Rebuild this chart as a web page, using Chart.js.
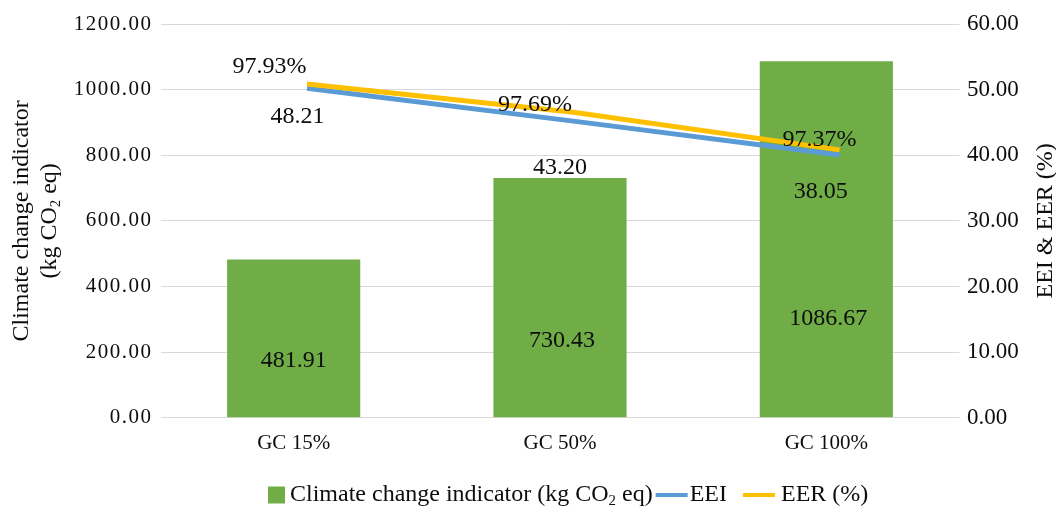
<!DOCTYPE html>
<html>
<head>
<meta charset="utf-8">
<script src="https://cdn.jsdelivr.net/npm/chart.js@4/dist/chart.umd.min.js"></script>
<style>
  html, body { margin: 0; padding: 0; background: #fff; }
  #wrap { width: 1056px; height: 513px; }
</style>
</head>
<body>
<div id="wrap"><canvas id="c" width="1056" height="513"></canvas></div>
<script>
// ---- data ----
const categories = ['GC 15%', 'GC 50%', 'GC 100%'];
const climateChange = [481.91, 730.43, 1086.67];   // kg CO2 eq
const eei = [48.21, 43.20, 38.05];
const eer = [97.93, 97.69, 97.37];                  // %
const leftTickValues = [0, 200, 400, 600, 800, 1000, 1200];
const rightTickValues = [0, 10, 20, 30, 40, 50, 60];

const FONT = '"Liberation Serif", "Times New Roman", Times, serif';
const INK = '#0d0d0d';
const GREEN = '#70AD47';
const BLUE = '#5B9BD5';
const GOLD = '#FFC000';

// text with an optional subscript run, e.g. CO₂
function drawRich(ctx, parts, x, y, size, align) {
  const widths = parts.map(p => {
    ctx.font = `${p.sub ? size * 0.62 : size}px ${FONT}`;
    return ctx.measureText(p.t).width;
  });
  const total = widths.reduce((a, b) => a + b, 0);
  let cx = align === 'center' ? x - total / 2 : x;
  ctx.textAlign = 'left';
  ctx.textBaseline = 'middle';
  parts.forEach((p, i) => {
    ctx.font = `${p.sub ? size * 0.62 : size}px ${FONT}`;
    ctx.fillText(p.t, cx, y + (p.sub ? size * 0.25 : 0));
    cx += widths[i];
  });
  return total;
}

// value labels next to bars and line points
const valueLabels = {
  id: 'valueLabels',
  afterDatasetsDraw(chart, args, opts) {
    const ctx = chart.ctx;
    const texts = [
      climateChange.map(v => v.toFixed(2)),
      eei.map(v => v.toFixed(2)),
      eer.map(v => v.toFixed(2) + '%')
    ];
    ctx.save();
    ctx.fillStyle = INK;
    ctx.font = `${opts.size}px ${FONT}`;
    ctx.textAlign = 'center';
    ctx.textBaseline = 'middle';
    chart.data.datasets.forEach((ds, di) => {
      const meta = chart.getDatasetMeta(di);
      meta.data.forEach((el, i) => {
        const off = opts.offsets[di][i];
        const ay = ds.type === 'line' ? el.y : el.base;
        ctx.fillText(texts[di][i], el.x + off[0], ay + off[1]);
      });
    });
    ctx.restore();
  }
};

// axis titles and legend
const frame = {
  id: 'frame',
  afterDraw(chart) {
    const ctx = chart.ctx;
    const a = chart.chartArea;
    const midY = (a.top + a.bottom) / 2;
    ctx.save();
    ctx.fillStyle = INK;

    // left title, two lines
    ctx.save();
    ctx.translate(21.5, midY);
    ctx.rotate(-Math.PI / 2);
    drawRich(ctx, [{ t: 'Climate change indicator' }], 0, 0, 24, 'center');
    ctx.restore();
    ctx.save();
    ctx.translate(50, midY);
    ctx.rotate(-Math.PI / 2);
    drawRich(ctx, [{ t: '(kg CO' }, { t: '2', sub: true }, { t: ' eq)' }], 0, 0, 24, 'center');
    ctx.restore();

    // right title
    ctx.save();
    ctx.translate(1046, midY);
    ctx.rotate(-Math.PI / 2);
    drawRich(ctx, [{ t: 'EEI & EER (%)' }], 0, 0, 24, 'center');
    ctx.restore();

    // legend
    const ly = 495;
    let x = 268;
    ctx.fillStyle = GREEN;
    ctx.fillRect(x, ly - 8.5, 17, 17);
    x += 22;
    ctx.fillStyle = INK;
    x += drawRich(ctx, [{ t: 'Climate change indicator (kg CO' }, { t: '2', sub: true }, { t: ' eq)' }], x, ly, 24, 'left');
    x += 3;
    ctx.strokeStyle = BLUE; ctx.lineWidth = 4;
    ctx.beginPath(); ctx.moveTo(x, ly); ctx.lineTo(x + 32, ly); ctx.stroke();
    x += 34;
    x += drawRich(ctx, [{ t: 'EEI' }], x, ly, 24, 'left');
    x += 16;
    ctx.strokeStyle = GOLD;
    ctx.beginPath(); ctx.moveTo(x, ly); ctx.lineTo(x + 32, ly); ctx.stroke();
    x += 38;
    drawRich(ctx, [{ t: 'EER (%)' }], x, ly, 24, 'left');
    ctx.restore();
  }
};

// slightly tracked tick labels on the left axis
const trackedTicks = {
  id: 'trackedTicks',
  beforeDraw(chart) {
    const s = chart.scales.y;
    if (s && !s._tracked) {
      const orig = s.drawLabels;
      s.drawLabels = function (area) {
        const ctx = this.ctx;
        ctx.save();
        ctx.letterSpacing = '1.5px';
        orig.call(this, area);
        ctx.restore();
      };
      s._tracked = true;
    }
  }
};

new Chart(document.getElementById('c'), {
  type: 'bar',
  data: {
    labels: categories,
    datasets: [
      {
        type: 'bar',
        label: 'Climate change indicator (kg CO2 eq)',
        data: climateChange,
        backgroundColor: GREEN,
        borderWidth: 0,
        grouped: false,
        barPercentage: 1,
        categoryPercentage: 0.5,
        xAxisID: 'x',
        yAxisID: 'y',
        order: 3
      },
      {
        type: 'line',
        label: 'EEI',
        data: eei.map((v, i) => ({ x: i, y: v })),
        borderColor: BLUE,
        borderWidth: 5,
        pointRadius: 0,
        tension: 0,
        fill: false,
        xAxisID: 'xLine',
        yAxisID: 'yEEI',
        order: 2
      },
      {
        type: 'line',
        label: 'EER (%)',
        data: eer.map((v, i) => ({ x: i, y: v })),
        borderColor: GOLD,
        borderWidth: 5,
        pointRadius: 0,
        tension: 0,
        fill: false,
        xAxisID: 'xLine',
        yAxisID: 'yEER',
        order: 1
      }
    ]
  },
  options: {
    responsive: false,
    devicePixelRatio: 1,
    animation: false,
    layout: { padding: { top: 24, left: 0, right: 0, bottom: 0 } },
    plugins: {
      legend: { display: false },
      tooltip: { enabled: false },
      valueLabels: {
        size: 24,
        offsets: [
          [[0, -56], [2, -76], [2, -98]],
          [[-9.5, 28.5], [-13.3, 47], [-18.8, 37]],
          [[-37.5, -17], [-38.3, -7.5], [-20.1, -10.6]]
        ]
      }
    },
    scales: {
      x: {
        type: 'category',
        offset: true,
        grid: { display: false },
        border: { display: false },
        ticks: { font: { family: FONT, size: 21 }, color: INK, padding: 5 },
        afterFit: s => { s.height = 95.3; }
      },
      xLine: { type: 'linear', display: false, offset: false, min: -0.55, max: 2.45 },
      y: {
        type: 'linear',
        position: 'left',
        min: 0,
        max: 1200,
        grid: { color: '#d9d9d9', lineWidth: 1, drawTicks: false },
        border: { display: false },
        afterBuildTicks: s => { s.ticks = leftTickValues.map(v => ({ value: v })); },
        ticks: { font: { family: FONT, size: 21 }, color: INK, padding: 8, callback: v => Number(v).toFixed(2) },
        afterFit: s => { s.width = 160.5; }
      },
      y1: {
        type: 'linear',
        position: 'right',
        min: 0,
        max: 60,
        grid: { display: false, drawTicks: false },
        border: { display: false },
        afterBuildTicks: s => { s.ticks = rightTickValues.map(v => ({ value: v })); },
        ticks: { font: { family: FONT, size: 23 }, color: INK, padding: 7.5, callback: v => Number(v).toFixed(2) },
        afterFit: s => { s.width = 96.5; }
      },
      yEEI: { type: 'linear', display: false, min: -2, max: 58 },
      yEER: { type: 'linear', display: false, min: 95.096, max: 98.439 }
    }
  },
  plugins: [valueLabels, frame, trackedTicks]
});
</script>
</body>
</html>
